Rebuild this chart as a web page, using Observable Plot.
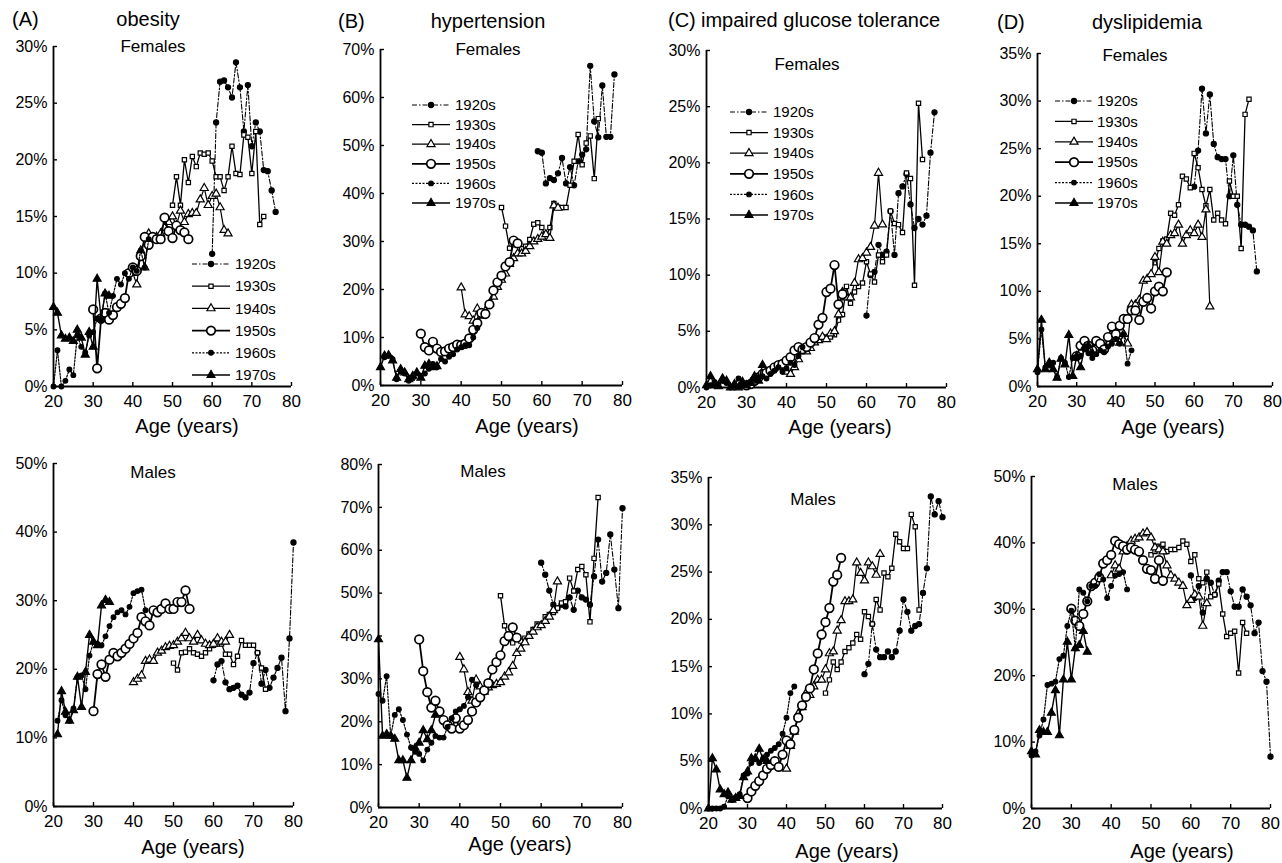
<!DOCTYPE html>
<html><head><meta charset="utf-8">
<script src="https://cdn.jsdelivr.net/npm/d3@7"></script>
<script src="https://cdn.jsdelivr.net/npm/@observablehq/plot@0.6"></script>
<style>
body{margin:0;background:#fff;}
#fig{position:relative;width:1282px;height:863px;overflow:hidden;font-family:Arial,"Liberation Sans",sans-serif;color:#000;}
#fig svg{position:absolute;}
</style></head><body><div id="fig"></div>
<script>
// ---------------- data ----------------
const cohorts = ["1920s","1930s","1940s","1950s","1960s","1970s"];
const xTicks = [20,30,40,50,60,70,80];

// (A) obesity, females
const obesityFStart = [60,50,40,30,20,20];
const obesityF = [
  [11.7,23.3,26.9,27.0,26.4,25.5,28.6,26.4,22.5,26.6,21.2,23.3,22.5,19.1,19.0,17.3,15.4],
  [16.0,18.5,16.0,20.0,18.0,20.3,19.4,20.6,20.5,20.6,19.9,18.5,18.5,17.3,18.5,21.2,18.8,18.7,22.2,22.0,18.8,22.5,14.3,15.0],
  [10.0,9.0,12.0,10.5,13.5,13.0,13.2,13.5,14.0,14.5,15.0,14.2,15.5,14.5,15.2,15.3,15.3,16.5,17.5,16.0,16.8,17.0,15.8,13.8,13.5],
  [6.8,1.6,6.0,6.5,5.9,6.3,7.0,7.3,7.8,10.0,10.5,10.2,11.5,13.2,12.5,13.2,13.0,13.0,14.9,13.7,13.1,14.2,13.8,13.6,13.0],
  [0.0,3.2,0.0,0.5,1.5,1.0,4.5,3.5,3.0,4.5,4.8,6.0,5.8,8.2,6.5,8.0,9.5,9.0,10.0,9.5,10.5,10.2,12.0,10.5,13.0],
  [7.0,6.5,4.5,4.2,4.3,4.0,5.0,4.3,2.8,4.8,3.5,9.5,6.0,8.2,8.0]
];
// (A) obesity, males
const obesityMStart = [60,50,40,30,21,21];
const obesityM = [
  [18.4,20.7,21.2,18.1,17.1,17.3,17.6,16.3,15.9,16.6,20.9,22.4,17.9,19.9,17.3,18.8,20.2,21.7,13.9,24.5,38.5],
  [20.9,19.9,22.4,22.5,23.0,22.4,22.2,21.9,22.4,23.0,23.5,23.7,23.7,22.2,22.2,20.7,21.9,24.2,23.5,23.5,23.5,22.4,20.2,17.1],
  [18.1,18.6,19.1,21.2,21.4,21.2,22.4,22.7,23.2,23.4,23.5,24.0,24.5,25.3,24.5,24.0,25.0,24.2,23.7,23.5,23.7,24.5,24.0,24.0,25.0],
  [13.9,19.3,20.7,18.9,21.4,22.4,21.9,22.4,23.0,23.7,24.5,25.3,27.6,27.0,26.4,28.6,28.3,28.8,29.6,28.8,28.8,29.8,29.8,31.5,28.8],
  [12.5,15.5,13.3,12.5,14.3,18.9,19.1,17.1,22.0,24.0,23.7,23.5,24.8,26.3,27.6,28.3,28.6,28.0,29.1,31.1,31.4,31.6,28.6],
  [10.5,16.8,13.8,12.5,14.0,18.9,14.5,19.6,25.0,24.0,23.5,29.3,30.1,29.8]
];
// (B) hypertension, females
const htnFStart = [59,50,40,30,21,20];
const htnF = [
  [48.8,48.5,42.1,43.2,42.8,44.2,47.4,42.1,45.5,41.7,46.7,48.1,49.2,66.6,55.0,51.7,62.5,51.8,51.8,64.8],
  [37.1,33.2,28.6,29.3,29.5,28.5,29.0,30.4,33.6,33.9,32.9,30.7,32.9,37.9,37.1,37.1,37.1,41.7,46.7,52.3,46.0,50.5,52.0,43.1,55.6],
  [20.4,14.8,14.4,13.5,16.0,14.5,15.5,17.0,18.5,20.5,22.0,23.3,25.3,26.5,27.5,27.5,28.0,29.0,30.0,30.5,31.0,31.5,30.7,37.5,37.0],
  [10.8,8.0,7.3,9.1,7.7,7.0,7.1,7.7,8.0,8.5,8.4,8.7,9.8,11.6,13.0,15.1,14.9,16.9,19.8,21.5,22.9,24.8,25.7,30.2,29.6],
  [5.9,6.2,5.5,1.3,3.0,2.5,1.0,1.5,2.5,2.0,2.5,3.5,4.5,3.8,5.5,5.0,6.0,6.5,7.5,8.0,8.4,8.4,10.0,12.0],
  [3.8,6.2,6.3,5.2,1.6,3.4,2.7,1.3,2.0,2.7,1.6,4.1,4.5,3.8,4.0]
];
// (B) hypertension, males
const htnMStart = [60,50,40,30,20,20];
const htnM = [
  [57.1,54.3,50.6,47.3,46.5,47.3,46.9,49.0,46.1,50.6,49.0,48.5,47.3,53.9,62.5,52.7,54.7,63.7,55.5,46.5,69.8],
  [49.4,42.4,39.2,38.4,39.6,38.8,39.5,40.5,41.5,42.8,42.5,44.5,45.0,45.5,46.5,47.7,48.0,53.5,50.5,55.5,56.2,54.3,43.3,58.1,72.3],
  [35.1,32.2,26.9,24.9,29.8,28.2,27.0,28.0,28.5,28.8,29.2,30.5,31.5,33.0,36.0,37.0,38.5,40.0,41.0,42.0,42.5,43.5,44.5,46.0,52.7],
  [39.2,31.8,26.9,23.3,24.9,22.4,20.4,19.2,18.4,20.8,18.4,19.2,20.4,22.4,24.5,25.7,27.3,29.0,32.2,33.9,35.5,38.8,40.0,42.0,39.6],
  [26.5,24.9,30.6,16.7,21.6,22.9,20.4,17.0,14.0,13.0,12.5,11.0,13.5,15.1,16.7,16.3,16.3,18.8,20.8,22.4,22.9,23.7,25.7,29.8,28.5],
  [39.2,16.7,17.1,16.7,16.0,11.0,11.0,6.9,11.0,13.9,15.1,18.0,15.9,18.0,21.6]
];
// (C) impaired glucose tolerance, females
const igtFStart = [60,50,40,30,20,20];
const igtF = [
  [6.4,10.0,10.3,12.7,11.8,12.1,15.7,11.8,17.3,17.9,19.0,16.3,14.2,15.0,14.5,15.3,20.9,24.5],
  [4.5,4.5,4.7,6.0,6.5,9.0,7.5,8.5,9.0,9.3,11.2,10.1,9.4,11.8,11.2,11.8,15.7,14.6,14.5,13.8,19.1,18.6,9.1,25.3,20.3],
  [1.4,1.2,1.8,2.5,3.4,3.2,3.5,4.0,4.2,4.5,4.3,4.8,5.0,6.5,8.5,8.0,8.0,9.3,11.4,11.5,12.0,12.5,14.4,19.1,14.5],
  [0.2,0.3,0.6,0.9,1.2,1.3,1.5,1.8,2.0,2.1,2.4,2.7,3.3,3.6,3.4,3.6,4.0,4.4,5.6,6.2,8.5,8.8,10.9,7.4,8.3],
  [0.0,0.2,0.5,0.3,0.6,0.4,0.0,0.2,0.8,0.3,0.2,0.5,0.7,0.9,1.0,0.8,1.2,1.5,1.8,1.4,1.7,2.2,2.0,2.8,3.6],
  [0.2,1.0,0.3,0.1,0.8,0.6,0.0,0.3,0.0,0.5,0.2,0.4,1.0,0.6,2.0]
];
// (C) impaired glucose tolerance, males
const igtMStart = [60,50,40,30,20,20];
const igtM = [
  [14.2,15.3,19.5,16.8,16.0,16.0,16.6,16.0,16.6,18.8,22.1,20.8,18.8,19.3,19.5,22.8,25.4,33.0,31.1,32.5,30.8],
  [12.2,13.6,15.5,14.7,15.5,16.6,17.0,17.5,18.4,17.9,20.8,20.3,19.5,22.1,21.0,24.9,24.5,25.4,29.0,28.2,27.5,27.5,31.1,29.8,21.0],
  [4.2,6.6,8.1,10.0,10.7,12.2,12.0,12.9,13.6,13.6,14.7,16.4,16.6,18.8,19.9,21.9,21.9,22.1,26.0,24.9,24.1,26.0,25.6,24.7,26.9],
  [1.1,1.8,2.4,2.9,3.5,4.2,4.6,5.0,4.4,5.7,7.2,6.8,8.3,9.6,10.9,11.8,12.7,14.7,16.4,18.4,19.7,21.2,24.0,24.7,26.5],
  [0.0,0.0,0.0,0.0,0.2,1.3,0.9,1.2,1.5,3.5,3.7,4.8,5.2,4.8,5.3,5.7,6.1,6.4,6.8,7.9,9.6,12.2,12.9],
  [0.0,5.3,4.1,2.0,1.5,1.7,0.9,1.1,1.3,3.3,3.9,5.3,5.3,6.3,5.2,5.0]
];
// (D) dyslipidemia, females
const dysFStart = [60,50,40,30,20,20];
const dysF = [
  [21.0,24.8,31.3,26.6,30.7,25.5,24.1,23.9,23.9,20.0,24.3,19.1,17.0,17.0,16.8,16.4,12.1],
  [13.0,14.5,15.3,15.5,18.2,18.0,19.1,22.1,21.8,20.9,24.5,23.0,20.7,19.0,20.7,17.5,18.2,17.5,17.1,21.6,20.0,20.0,14.5,28.6,30.2],
  [5.0,4.6,5.5,4.5,8.6,8.6,9.1,11.1,11.3,11.8,13.6,12.0,15.2,15.0,15.9,16.1,17.0,15.0,15.9,16.4,16.1,17.0,15.7,18.6,8.4],
  [3.2,4.3,4.8,4.3,3.8,4.8,4.5,3.9,5.2,6.3,5.5,6.4,7.1,7.1,8.0,8.0,7.0,8.9,9.3,8.2,10.0,10.5,10.0,12.0],
  [1.5,6.0,2.0,2.2,2.5,1.0,3.0,2.5,1.0,3.0,3.0,3.2,3.9,3.5,3.0,3.4,3.8,3.6,4.2,4.5,5.0,4.5,5.5,2.4,3.8],
  [1.8,7.0,1.8,2.5,1.8,0.9,2.9,2.3,5.4,1.1,3.2,2.0,4.1,4.3,3.5]
];
// (D) dyslipidemia, males
const dysMStart = [60,50,40,30,20,20];
const dysM = [
  [35.1,31.7,33.5,29.5,34.6,34.0,32.2,34.3,35.6,35.6,32.7,30.4,30.4,33.0,31.9,30.6,26.4,28.0,20.7,19.1,7.8],
  [38.2,38.7,39.5,39.8,38.7,39.0,39.0,39.3,40.3,39.8,37.2,38.2,34.6,34.0,35.6,31.9,32.2,33.8,29.3,25.9,26.4,26.7,20.4,28.0,26.4],
  [35.1,36.6,36.1,38.7,39.5,40.3,40.6,40.8,41.4,41.6,40.8,39.3,39.0,38.7,36.6,35.1,34.6,34.0,33.5,30.6,31.4,32.2,31.9,27.5,30.9],
  [30.1,28.3,27.5,29.3,31.2,33.5,34.0,34.8,36.9,37.4,38.2,40.3,39.8,39.5,39.0,39.3,39.0,38.7,37.4,36.1,35.9,34.6,37.4,34.3],
  [8.0,8.6,11.0,13.4,18.6,18.8,19.1,22.5,23.0,27.5,29.8,24.1,33.0,32.5,31.2,33.5,33.5,35.3,34.5,31.7,33.5,35.1,35.3,35.6,33.0],
  [8.6,8.1,11.8,11.5,11.5,14.4,17.8,11.0,19.4,25.1,19.4,24.1,24.6,26.7,23.6]
];

// ---------------- styles & layout ----------------
const styles = {
  "1920s": {dash: "5,2,1.5,2", sw: 1.1, symbol: "circle",   fill: "black", r: 2.6, msw: 1.1},
  "1930s": {dash: undefined,  sw: 1.3, symbol: "square",   fill: "white", r: 2.4, msw: 1.2},
  "1940s": {dash: undefined,  sw: 1.2, symbol: "triangle", fill: "white", r: 3.0, msw: 1.2},
  "1950s": {dash: undefined,  sw: 1.8, symbol: "circle",   fill: "white", r: 4.3, msw: 1.7},
  "1960s": {dash: "2,1.5",    sw: 1.2, symbol: "circle",   fill: "black", r: 2.4, msw: 1.1},
  "1970s": {dash: undefined,  sw: 1.4, symbol: "triangle", fill: "black", r: 3.0, msw: 1.1}
};

const panels = [
  {series: obesityF, start: obesityFStart, yMax: 30, yStep: 5,  L: 53,   R: 291,  T: 46,  B: 386, sub: "Females", sx: 153,  sy: 46,
   legend: {x1: 192, x2: 230, tx: 235, y0: 264, dy: 22.2}},
  {series: htnF,     start: htnFStart,     yMax: 70, yStep: 10, L: 380,  R: 622,  T: 49,  B: 385, sub: "Females", sx: 488,  sy: 49,
   legend: {x1: 412, x2: 450, tx: 455, y0: 105, dy: 19.6}},
  {series: igtF,     start: igtFStart,     yMax: 30, yStep: 5,  L: 706,  R: 946,  T: 50,  B: 387, sub: "Females", sx: 807,  sy: 64,
   legend: {x1: 730, x2: 768, tx: 773, y0: 112, dy: 20.6}},
  {series: dysF,     start: dysFStart,     yMax: 35, yStep: 5,  L: 1037, R: 1272, T: 53,  B: 386, sub: "Females", sx: 1135, sy: 55,
   legend: {x1: 1055, x2: 1093, tx: 1097, y0: 101, dy: 20.4}},
  {series: obesityM, start: obesityMStart, yMax: 50, yStep: 10, L: 53,   R: 293,  T: 463, B: 806, sub: "Males", sx: 153,  sy: 472},
  {series: htnM,     start: htnMStart,     yMax: 80, yStep: 10, L: 378,  R: 622,  T: 464, B: 807, sub: "Males", sx: 483,  sy: 471},
  {series: igtM,     start: igtMStart,     yMax: 35, yStep: 5,  L: 708,  R: 942,  T: 477, B: 808, sub: "Males", sx: 813,  sy: 499},
  {series: dysM,     start: dysMStart,     yMax: 50, yStep: 10, L: 1031, R: 1270, T: 476, B: 808, sub: "Males", sx: 1135, sy: 484}
];

const titles = [
  {text: "(A)", x: 12, y: 19, anchor: "start"},
  {text: "obesity", x: 148, y: 19, anchor: "middle"},
  {text: "(B)", x: 338, y: 21, anchor: "start"},
  {text: "hypertension", x: 488, y: 21, anchor: "middle"},
  {text: "(C)", x: 668, y: 20, anchor: "start"},
  {text: "impaired glucose tolerance", x: 701, y: 20, anchor: "start"},
  {text: "(D)", x: 997, y: 22, anchor: "start"},
  {text: "dyslipidemia", x: 1147, y: 22, anchor: "middle"}
];
const xLabels = [
  {x: 187, y: 426}, {x: 527, y: 426}, {x: 840, y: 427}, {x: 1173, y: 427},
  {x: 193, y: 847}, {x: 520, y: 844}, {x: 847, y: 851}, {x: 1182, y: 851}
];

// ---------------- draw ----------------
const fig = document.getElementById("fig");
const font = "Arial, 'Liberation Sans', sans-serif";

panels.forEach(p => {
  const rows = [];
  p.series.forEach((vals, i) => vals.forEach((v, j) => rows.push({cohort: cohorts[i], age: p.start[i] + j, value: v})));
  const yTicks = d3.range(0, p.yMax + 0.001, p.yStep);
  const ml = 60, mr = 12, mt = 10, mb = 34;
  const pw = p.R - p.L, ph = p.B - p.T;
  const marks = [
    Plot.axisX({ticks: xTicks, tickSize: 0, tickPadding: 8, fontSize: 17, label: null, tickFormat: d => d}),
    Plot.axisY({ticks: yTicks, tickSize: 0, tickPadding: 6, fontSize: 16, label: null, tickFormat: d => d + "%"}),
    Plot.tickX(xTicks, {x: d => d, insetTop: ph - 4, stroke: "black", strokeWidth: 1.4}),
    Plot.tickY(yTicks, {y: d => d, insetRight: pw - 4, stroke: "black", strokeWidth: 1.4}),
    Plot.ruleY([0], {stroke: "black", strokeWidth: 1.8}),
    Plot.ruleX([20], {stroke: "black", strokeWidth: 1.8})
  ];
  cohorts.forEach(c => {
    const s = styles[c];
    const d = rows.filter(r => r.cohort === c);
    marks.push(Plot.line(d, {x: "age", y: "value", stroke: "black", strokeWidth: s.sw, strokeDasharray: s.dash}));
    marks.push(Plot.dot(d, {x: "age", y: "value", symbol: s.symbol, r: s.r, fill: s.fill, stroke: "black", strokeWidth: s.msw}));
  });
  const chart = Plot.plot({
    width: pw + ml + mr, height: ph + mt + mb,
    marginLeft: ml, marginRight: mr, marginTop: mt, marginBottom: mb,
    x: {domain: [20, 80]},
    y: {domain: [0, p.yMax]},
    style: {fontFamily: font, color: "black", background: "transparent", overflow: "visible"},
    marks
  });
  chart.style.left = (p.L - ml) + "px";
  chart.style.top = (p.T - mt) + "px";
  fig.appendChild(chart);
});

// overlay for titles, subtitles, axis labels and legends
const ov = d3.select(fig).append("svg")
  .attr("width", 1282).attr("height", 863)
  .style("left", "0px").style("top", "0px")
  .style("font-family", font).style("pointer-events", "none");

titles.forEach(t => ov.append("text").attr("x", t.x).attr("y", t.y).attr("dy", "0.35em")
  .attr("text-anchor", t.anchor).attr("font-size", 20).text(t.text));
panels.forEach(p => ov.append("text").attr("x", p.sx).attr("y", p.sy).attr("dy", "0.35em")
  .attr("text-anchor", "middle").attr("font-size", 17).text(p.sub));
xLabels.forEach(l => ov.append("text").attr("x", l.x).attr("y", l.y).attr("dy", "0.35em")
  .attr("text-anchor", "middle").attr("font-size", 20).text("Age (years)"));

const symbolMap = {circle: d3.symbolCircle, square: d3.symbolSquare, triangle: d3.symbolTriangle};
panels.filter(p => p.legend).forEach(p => {
  const g = p.legend;
  cohorts.forEach((c, i) => {
    const s = styles[c];
    const y = g.y0 + i * g.dy;
    ov.append("line").attr("x1", g.x1).attr("x2", g.x2).attr("y1", y).attr("y2", y)
      .attr("stroke", "black").attr("stroke-width", s.sw).attr("stroke-dasharray", s.dash || null);
    ov.append("path").attr("d", d3.symbol(symbolMap[s.symbol], Math.PI * s.r * s.r)())
      .attr("transform", `translate(${(g.x1 + g.x2) / 2},${y})`)
      .attr("fill", s.fill).attr("stroke", "black").attr("stroke-width", s.msw);
    ov.append("text").attr("x", g.tx).attr("y", y).attr("dy", "0.35em")
      .attr("font-size", 15).text(c);
  });
});
</script></body></html>
